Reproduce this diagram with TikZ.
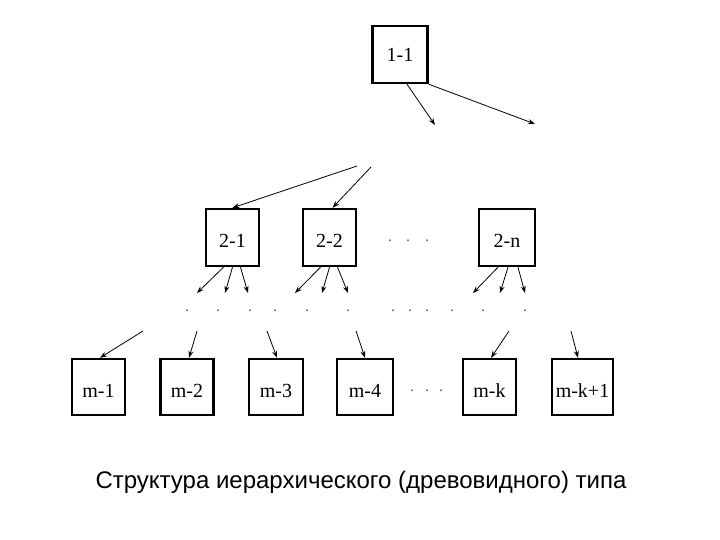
\documentclass[tikz,border=0pt]{standalone}
\usepackage{fontspec}
\setmainfont{Liberation Serif}
\newfontfamily\capfont{Liberation Sans}
\usetikzlibrary{arrows.meta}
\tikzset{
  box/.style={draw, line width=2.4pt, minimum width=53pt, minimum height=56pt, inner sep=0pt,
    font=\fontsize{20}{20}\selectfont, text height=20pt, text depth=0pt},
  arr/.style={line width=0.8pt, -{Stealth[length=7pt,width=5pt]}},
  dotm/.style={font=\fontsize{16}{16}\selectfont, text=black!60, inner sep=0pt}
}
\begin{document}
\begin{tikzpicture}[x=1pt,y=-1pt]
\useasboundingbox (0,0) rectangle (720,540);
% boxes
\node[box, minimum width=55pt, minimum height=57pt, text height=14pt] (b11) at (400,54.5) {1-1};
\node[box, minimum height=57pt] (b21) at (232.5,237.5) {2-1};
\node[box, minimum height=57pt] (b22) at (329.5,237.5) {2-2};
\node[box, minimum width=56pt, minimum height=57pt] (b2n) at (507,237.5) {2-n};
\node[box] (m1) at (98.5,387) {m-1};
\node[box] (m2) at (187,387) {m-2};
\node[box, minimum width=54pt] (m3) at (276,387) {m-3};
\node[box, minimum width=56pt] (m4) at (365,387) {m-4};
\node[box] (mk) at (489.5,387) {m-k};
\node[box, minimum width=61pt] (mk1) at (582.5,387) {m-k+1};
% free ends
\coordinate (e1) at (435,125);
\coordinate (e2) at (535,124);
\coordinate (s21) at (357,166);
\coordinate (s22) at (371,167);
\coordinate (a1) at (197,293); \coordinate (a2) at (225,293); \coordinate (a3) at (248,293);
\coordinate (c1) at (295,293); \coordinate (c2) at (322,293); \coordinate (c3) at (348,293);
\coordinate (n1) at (473,293); \coordinate (n2) at (500,293); \coordinate (n3) at (525,293);
\coordinate (t1) at (143,331); \coordinate (t2) at (197,331); \coordinate (t3) at (267,331);
\coordinate (t4) at (356,331); \coordinate (tk) at (509,331); \coordinate (tk1) at (571,331);
% arrows from 1-1
\draw[arr] ([xshift=7pt]b11.south) -- (e1);
\draw[arr] (b11.south east) -- (e2);
% arrows into level 2
\draw[arr] (s21) -- (b21.north);
\draw[arr] (s22) -- ([xshift=3pt]b22.north);
% arrows out of level 2
\draw[arr] ([xshift=-9pt]b21.south) -- (a1);
\draw[arr] ([xshift=0pt]b21.south) -- (a2);
\draw[arr] ([xshift=8pt]b21.south) -- (a3);
\draw[arr] ([xshift=-9pt]b22.south) -- (c1);
\draw[arr] ([xshift=0pt]b22.south) -- (c2);
\draw[arr] ([xshift=8pt]b22.south) -- (c3);
\draw[arr] ([xshift=-9pt]b2n.south) -- (n1);
\draw[arr] ([xshift=1pt]b2n.south) -- (n2);
\draw[arr] ([xshift=11pt]b2n.south) -- (n3);
% arrows into bottom row
\draw[arr] (t1) -- ([xshift=1.5pt]m1.north);
\draw[arr] (t2) -- ([xshift=2pt]m2.north);
\draw[arr] (t3) -- ([xshift=1pt]m3.north);
\draw[arr] (t4) -- (m4.north);
\draw[arr] (tk) -- ([xshift=1.5pt]mk.north);
\draw[arr] (tk1) -- ([xshift=-4.5pt]mk1.north);
% dots
\foreach \x/\i in {390/1,408/2,427/3} \node[dotm] (d2\i) at (\x,241) {.};
\foreach \x/\i in {187/1,218/2,250/3,275/4,307/5,348/6,393/7,410/8,427/9,452/10,483/11,525/12}
  \node[dotm] (dr\i) at (\x,311) {.};
\foreach \x/\i in {412/1,427/2,441/3} \node[dotm] (dm\i) at (\x,391) {.};
% caption
\node[font=\capfont\fontsize{24}{24}\selectfont, anchor=base, inner sep=0pt] (cap) at (361,488)
  {Структура иерархического (древовидного) типа};
\end{tikzpicture}
\end{document}
